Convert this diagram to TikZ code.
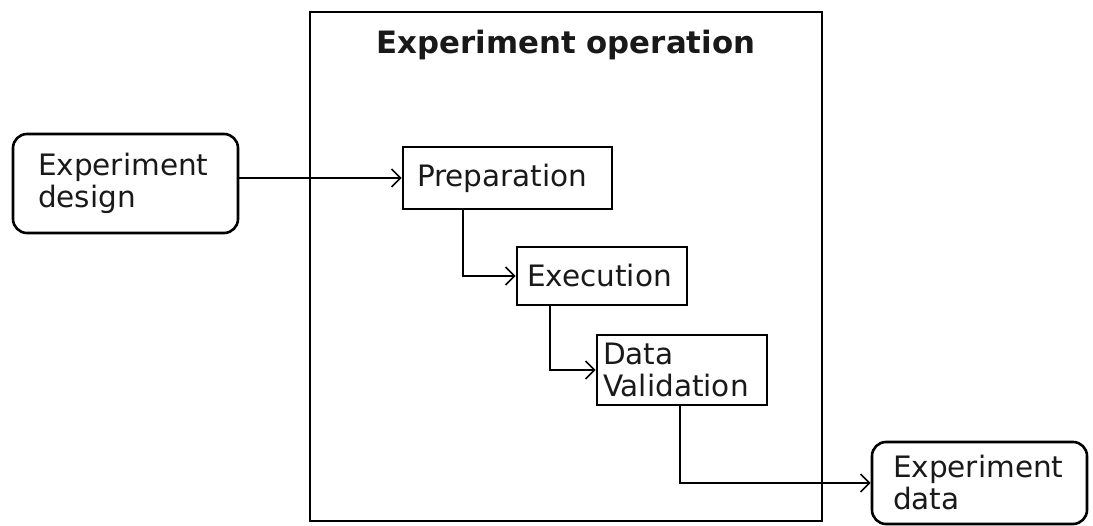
\documentclass[tikz,border=0pt]{standalone}
\usepackage{fontspec}
\setmainfont{DejaVu Sans}
\usetikzlibrary{arrows.meta}
\begin{document}
\begin{tikzpicture}[x=1pt,y=-1pt,
  every node/.style={font=\fontsize{29.5}{32}\selectfont, text=black!90},
  box/.style={draw, line width=2.6pt, align=left, inner ysep=0pt},
  term/.style={box, rounded corners=14pt},
  conn/.style={line width=2.4pt, -{Straight Barb[length=9pt,width=18pt,line width=1.6pt]}},
  frame/.style={draw, line width=2.8pt}
]
\useasboundingbox (0,0) rectangle (1093,526);
\draw[frame] (310,12) rectangle (822,521);
\node[font=\fontsize{30.8}{32}\selectfont\bfseries] (title) at (566,45) {Experiment operation};

\node[term, minimum height=99pt, inner xsep=25pt, text width=175pt] (design) at (125.5,183.5) {Experiment\\design};
\node[box, minimum height=62pt, inner xsep=14pt, text width=181pt] (prep) at (507.5,178) {Preparation};
\node[box, minimum height=58pt, inner xsep=10pt, text width=150pt] (exec) at (602,276) {Execution};
\node[box, minimum height=70pt, inner xsep=6pt, text width=158pt] (dv) at (682,370) {Data\\Validation};
\node[term, minimum height=82pt, inner xsep=21pt, text width=173pt] (data) at (979.5,483) {Experiment\\data};

\draw[conn] (design.east |- prep.west) -- (prep.west);
\draw[conn] ([xshift=61pt]prep.south west) |- (exec.west);
\draw[conn] ([xshift=34pt]exec.south west) |- (dv.west);
\draw[conn] ([xshift=84pt]dv.south west) |- (data.west);
\end{tikzpicture}
\end{document}
